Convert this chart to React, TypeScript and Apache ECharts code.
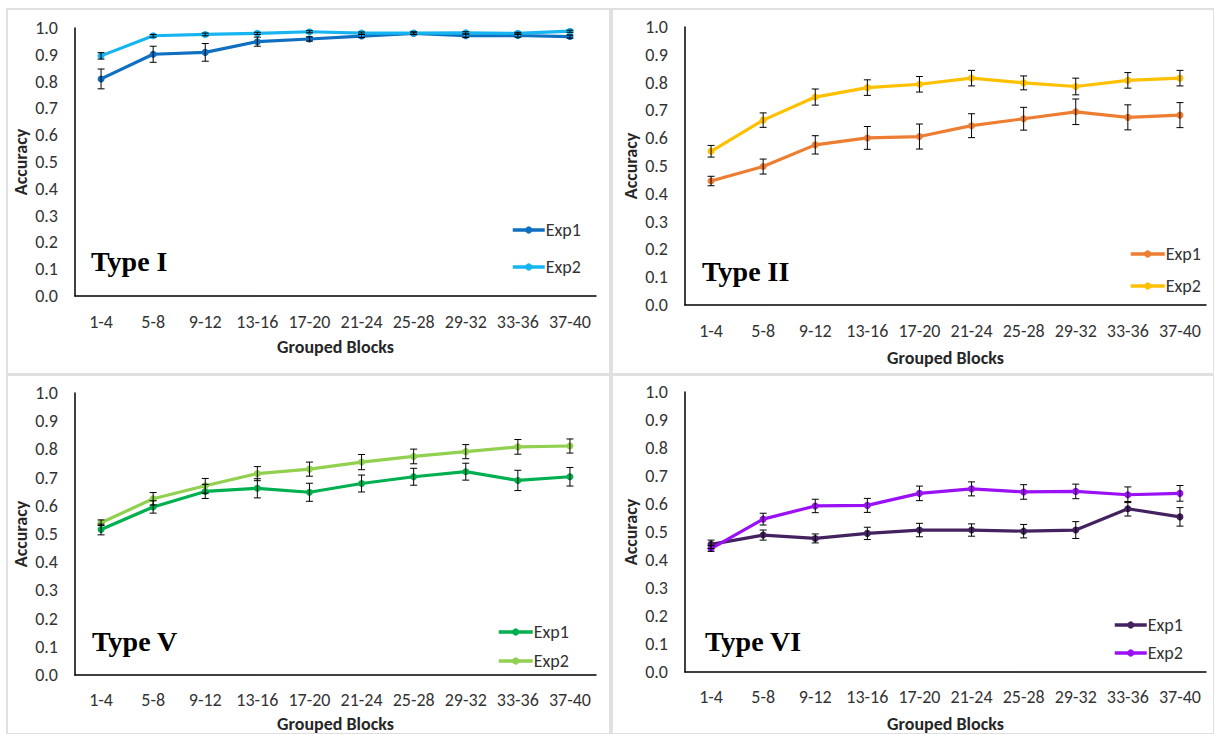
import React, { useEffect, useRef } from "react";
import * as echarts from "echarts";

const categories = ["1-4", "5-8", "9-12", "13-16", "17-20", "21-24", "25-28", "29-32", "33-36", "37-40"];
const yTicks = [0, 0.1, 0.2, 0.3, 0.4, 0.5, 0.6, 0.7, 0.8, 0.9, 1.0];

// Type I
const t1Exp1 = [0.81, 0.902, 0.909, 0.949, 0.959, 0.970, 0.980, 0.971, 0.972, 0.968];
const t1Exp1Err = [0.037, 0.03, 0.033, 0.017, 0.008, 0.006, 0.005, 0.006, 0.006, 0.006];
const t1Exp2 = [0.896, 0.971, 0.976, 0.980, 0.986, 0.981, 0.981, 0.982, 0.980, 0.988];
const t1Exp2Err = [0.012, 0.005, 0.005, 0.004, 0.004, 0.004, 0.004, 0.004, 0.004, 0.004];

// Type II
const t2Exp1 = [0.446, 0.498, 0.576, 0.601, 0.606, 0.645, 0.670, 0.695, 0.675, 0.683];
const t2Exp1Err = [0.017, 0.027, 0.033, 0.041, 0.045, 0.043, 0.041, 0.046, 0.045, 0.045];
const t2Exp2 = [0.553, 0.665, 0.748, 0.782, 0.794, 0.816, 0.799, 0.786, 0.808, 0.816];
const t2Exp2Err = [0.021, 0.026, 0.029, 0.028, 0.028, 0.028, 0.025, 0.03, 0.028, 0.028];

// Type V
const t5Exp1 = [0.516, 0.596, 0.651, 0.662, 0.648, 0.679, 0.703, 0.721, 0.690, 0.703];
const t5Exp1Err = [0.019, 0.022, 0.025, 0.034, 0.032, 0.03, 0.03, 0.03, 0.036, 0.033];
const t5Exp2 = [0.540, 0.625, 0.671, 0.714, 0.730, 0.755, 0.775, 0.792, 0.809, 0.812];
const t5Exp2Err = [0.01, 0.022, 0.026, 0.025, 0.025, 0.027, 0.026, 0.025, 0.026, 0.025];

// Type VI
const t6Exp1 = [0.456, 0.489, 0.477, 0.495, 0.507, 0.507, 0.503, 0.507, 0.583, 0.554];
const t6Exp1Err = [0.015, 0.018, 0.016, 0.022, 0.024, 0.022, 0.024, 0.03, 0.026, 0.033];
const t6Exp2 = [0.441, 0.546, 0.593, 0.595, 0.638, 0.654, 0.643, 0.645, 0.633, 0.638];
const t6Exp2Err = [0.01, 0.021, 0.024, 0.025, 0.026, 0.025, 0.026, 0.026, 0.028, 0.028];

const panels = [
  { key: "I", title: "Type I", exp1: t1Exp1, err1: t1Exp1Err, exp2: t1Exp2, err2: t1Exp2Err, c1: "#0F6FC0", c2: "#16B4F0" },
  { key: "II", title: "Type II", exp1: t2Exp1, err1: t2Exp1Err, exp2: t2Exp2, err2: t2Exp2Err, c1: "#ED7D31", c2: "#FFC000" },
  { key: "V", title: "Type V", exp1: t5Exp1, err1: t5Exp1Err, exp2: t5Exp2, err2: t5Exp2Err, c1: "#00B050", c2: "#92D050" },
  { key: "VI", title: "Type VI", exp1: t6Exp1, err1: t6Exp1Err, exp2: t6Exp2, err2: t6Exp2Err, c1: "#44225F", c2: "#9B11F5" },
];

const layout = [
  { left: 75, top: 28, height: 268, legendLeft: 511, legendTop: 221, legendGap: 19, legendW: 32, titleLeft: 91, titleTop: 247, xNameGap: 42, xLabelMargin: 17, frame: [7, 9, 603, 365] },
  { left: 685, top: 27, height: 278, legendLeft: 1129, legendTop: 245, legendGap: 14, legendW: 34, titleLeft: 702, titleTop: 257, xNameGap: 44, xLabelMargin: 17, frame: [612, 9, 602, 365] },
  { left: 75, top: 393, height: 285, legendLeft: 497, legendTop: 623, legendGap: 11, legendW: 34, titleLeft: 92, titleTop: 627, xNameGap: 40, xLabelMargin: 16, frame: [7, 375, 603, 359] },
  { left: 685, top: 392, height: 283, legendLeft: 1113, legendTop: 616, legendGap: 10, legendW: 32, titleLeft: 705, titleTop: 627, xNameGap: 43, xLabelMargin: 16, frame: [612, 375, 602, 359] },
];

const sansFont = "Carlito, Calibri, Lato, 'Open Sans', sans-serif";
const serifFont = "'Liberation Serif', 'Times New Roman', serif";

function errorRender(params: any, api: any) {
  const x = api.value(0);
  const lo = api.coord([x, api.value(1)]);
  const hi = api.coord([x, api.value(2)]);
  const w = 3.5;
  const style = { stroke: "#000", lineWidth: 1 };
  return {
    type: "group",
    children: [
      { type: "line", shape: { x1: lo[0], y1: lo[1], x2: hi[0], y2: hi[1] }, style },
      { type: "line", shape: { x1: lo[0] - w, y1: lo[1], x2: lo[0] + w, y2: lo[1] }, style },
      { type: "line", shape: { x1: hi[0] - w, y1: hi[1], x2: hi[0] + w, y2: hi[1] }, style },
    ],
  };
}

export default function App() {
  const ref = useRef<HTMLDivElement>(null);
  useEffect(() => {
    if (!ref.current) return;
    const chart = echarts.init(ref.current, undefined, { renderer: "svg" });
    const grid: any[] = [];
    const xAxis: any[] = [];
    const yAxis: any[] = [];
    const series: any[] = [];
    const legend: any[] = [];
    const title: any[] = [];
    const graphic: any[] = [];

    panels.forEach((p, i) => {
      const L = layout[i];
      grid.push({ left: L.left, top: L.top, width: 521, height: L.height });
      xAxis.push({
        type: "category",
        gridIndex: i,
        data: categories,
        boundaryGap: true,
        axisLine: { lineStyle: { color: "#000", width: 1.5 } },
        axisTick: { show: false },
        axisLabel: { interval: 0, margin: L.xLabelMargin, color: "#333", fontSize: 18, fontFamily: sansFont },
        name: "Grouped Blocks",
        nameLocation: "middle",
        nameGap: L.xNameGap,
        nameTextStyle: { fontWeight: "bold", fontSize: 18, color: "#262626", fontFamily: sansFont },
        splitLine: { show: false },
      });
      yAxis.push({
        type: "value",
        gridIndex: i,
        min: 0,
        max: 1,
        interval: 0.1,
        axisLine: { show: true, lineStyle: { color: "#000", width: 1.5 } },
        axisTick: { show: false },
        splitLine: { show: false },
        axisLabel: {
          margin: 17,
          color: "#333",
          fontSize: 18,
          fontFamily: sansFont,
          formatter: (v: number) => (yTicks.some((t) => Math.abs(t - v) < 1e-9) ? v.toFixed(1) : ""),
        },
        name: "Accuracy",
        nameLocation: "middle",
        nameGap: 45,
        nameTextStyle: { fontWeight: "bold", fontSize: 18, color: "#262626", fontFamily: sansFont },
      });
      const n1 = p.key + "|Exp1";
      const n2 = p.key + "|Exp2";
      const mk = (name: string, data: number[], color: string, z: number) => ({
        name,
        type: "line",
        xAxisIndex: i,
        yAxisIndex: i,
        data,
        color,
        symbol: "circle",
        symbolSize: 7,
        lineStyle: { width: 3.2, color },
        itemStyle: { color },
        z,
      });
      const eb = (name: string, vals: number[], errs: number[]) => ({
        name: name + "|err",
        type: "custom",
        xAxisIndex: i,
        yAxisIndex: i,
        renderItem: errorRender,
        data: vals.map((v, k) => [k, v - errs[k], v + errs[k]]),
        encode: { x: 0, y: [1, 2] },
        z: 5,
      });
      series.push(eb(n1, p.exp1, p.err1));
      series.push(eb(n2, p.exp2, p.err2));
      series.push(mk(n1, p.exp1, p.c1, 3));
      series.push(mk(n2, p.exp2, p.c2, 4));
      legend.push({
        data: [n1, n2],
        orient: "vertical",
        left: L.legendLeft,
        top: L.legendTop,
        padding: 0,
        itemWidth: L.legendW,
        itemHeight: 9,
        itemGap: L.legendGap,
        lineStyle: { width: 3.5 },
        formatter: (name: string) => name.split("|")[1],
        textStyle: { fontSize: 18, color: "#333", fontFamily: sansFont, padding: [0, 0, 0, -4] },
        selectedMode: false,
      });
      title.push({
        text: p.title,
        left: L.titleLeft,
        top: L.titleTop,
        padding: 0,
        textStyle: { fontFamily: serifFont, fontWeight: "bold", fontSize: 28, color: "#000" },
      });
      const f = L.frame;
      graphic.push({
        type: "rect",
        shape: { x: f[0], y: f[1], width: f[2], height: f[3] },
        style: { fill: "none", stroke: "#e0e0e0", lineWidth: 2 },
        silent: true,
        z: -10,
      });
    });

    chart.setOption({
      animation: false,
      backgroundColor: "#fff",
      grid,
      xAxis,
      yAxis,
      series,
      legend,
      title,
      graphic,
    });
    return () => chart.dispose();
  }, []);
  return <div ref={ref} style={{ position: "fixed", left: 0, top: 0, width: 1214, height: 734 }} />;
}
